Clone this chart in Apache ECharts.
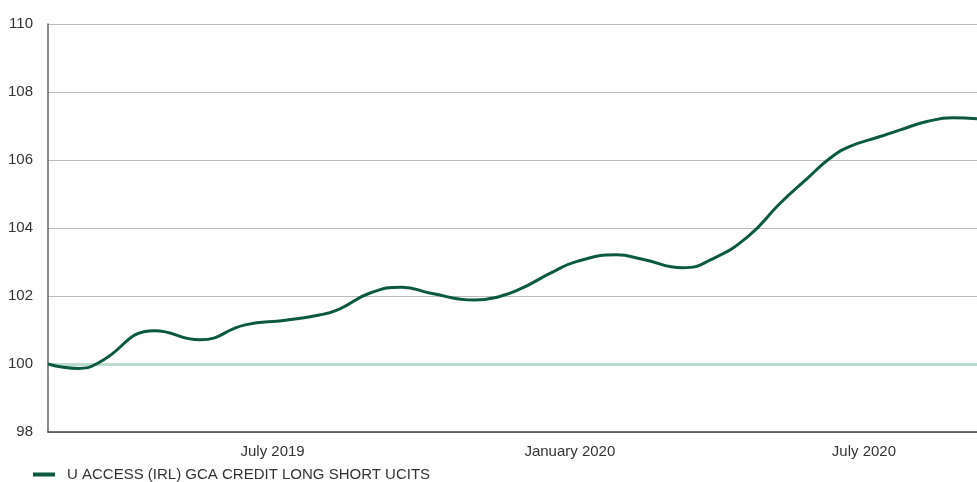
<!DOCTYPE html>
<html>
<head>
<meta charset="utf-8">
<script src="https://cdn.jsdelivr.net/npm/echarts@6/dist/echarts.min.js"></script>
<style>
html,body{margin:0;padding:0;background:#fff;}
#chart{width:977px;height:482px;}
</style>
</head>
<body>
<div id="chart"></div>
<script>
const seriesName = 'U ACCESS (IRL) GCA CREDIT LONG SHORT UCITS';
const dates = ['2019-02-12','2019-03-03','2019-03-15','2019-04-19','2019-05-17','2019-06-14','2019-07-09','2019-07-30','2019-08-11','2019-08-30','2019-09-19','2019-10-07','2019-11-03','2019-11-18','2019-12-01','2019-12-20','2020-01-05','2020-01-30','2020-02-15','2020-03-11','2020-03-28','2020-04-20','2020-05-10','2020-05-27','2020-06-10','2020-06-22','2020-07-11','2020-07-23','2020-08-09','2020-08-25','2020-09-09'];
const values = [100.00,99.87,100.03,100.98,100.71,101.15,101.29,101.44,101.61,102.08,102.26,102.08,101.88,101.98,102.20,102.67,103.01,103.21,103.08,102.83,103.06,103.74,104.72,105.46,106.05,106.39,106.69,106.88,107.13,107.24,107.21];
const yTicks = [98,100,102,104,106,108,110];
const xLabelDates = ['2019-07-01','2020-01-01','2020-07-01'];
const baseline = 100;

function ts(s){const p=s.split('-').map(Number);return Date.UTC(p[0],p[1]-1,p[2]);}
const monthNames=['January','February','March','April','May','June','July','August','September','October','November','December'];

const chart = echarts.init(document.getElementById('chart'));
chart.setOption({
  animation:false,
  textStyle:{fontFamily:'Liberation Sans, Arial, sans-serif'},
  grid:{left:48,right:0,top:24,bottom:50,containLabel:false},
  legend:{
    left:28,top:462,
    icon:'rect',itemWidth:22,itemHeight:4,itemGap:10,
    textStyle:{fontSize:15,color:'#333',padding:[0,0,0,7],fontFamily:'Liberation Sans, Arial, sans-serif'},
    data:[seriesName]
  },
  xAxis:{
    type:'value',
    min:ts(dates[0]),max:ts(dates[dates.length-1]),
    axisLine:{show:true,onZero:false,lineStyle:{color:'#444',width:1.5}},
    axisTick:{show:false},
    splitLine:{show:false},
    axisLabel:{
      customValues:xLabelDates.map(ts),
      margin:12,fontSize:15,color:'#333',
      formatter:function(v){const d=new Date(v);return monthNames[d.getUTCMonth()]+' '+d.getUTCFullYear();}
    }
  },
  yAxis:{
    type:'value',min:yTicks[0],max:yTicks[yTicks.length-1],interval:2,
    axisLine:{show:true,lineStyle:{color:'#666',width:1.5}},
    axisTick:{show:false},
    splitLine:{show:true,lineStyle:{color:'#bbbbbb',width:1}},
    axisLabel:{fontSize:15,color:'#333',margin:15}
  },
  series:[{
    name:seriesName,
    type:'line',
    smooth:0.5,
    showSymbol:false,
    symbol:'none',
    lineStyle:{color:'#0b5a3f',width:3},
    itemStyle:{color:'#0b5a3f'},
    data:dates.map((d,i)=>[ts(d),values[i]]),
    z:3,
    markLine:{
      silent:true,symbol:'none',label:{show:false},
      lineStyle:{color:'#bcdccd',width:3,type:'solid'},
      data:[{yAxis:baseline}],
      z:2
    }
  }]
});
</script>
</body>
</html>
